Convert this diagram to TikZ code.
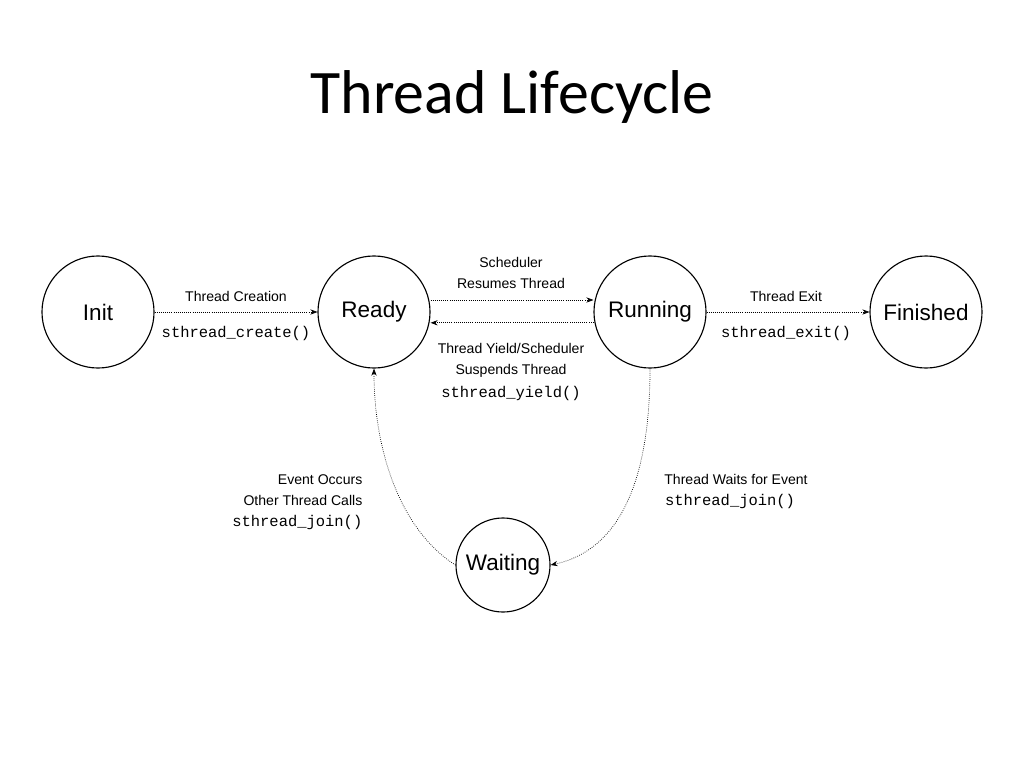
\documentclass[tikz,border=0pt]{standalone}
\usepackage{fontspec}
\setmainfont{Liberation Sans}
\newfontfamily\titlefont{Carlito}
\newfontfamily\monof{Liberation Mono}
\usetikzlibrary{arrows.meta}
\begin{document}
\begin{tikzpicture}[x=0.025cm,y=-0.025cm,
  st/.style={circle,draw,line width=0.8pt,minimum size=2.8cm,inner sep=0pt,font=\fontsize{16}{18}\selectfont},
  sts/.style={circle,draw,line width=0.8pt,minimum size=2.35cm,inner sep=0pt,font=\fontsize{16}{18}\selectfont},
  tr/.style={densely dotted,line width=0.5pt,-{Stealth[length=5pt]}},
  lb/.style={font=\fontsize{10}{13}\selectfont,align=center,inner sep=1pt},
  mn/.style={font=\monof\fontsize{11}{13}\selectfont,inner sep=1pt}]
\useasboundingbox (0,0) rectangle (1024,768);
\node[font=\titlefont\fontsize{44}{50}\selectfont] (title) at (512,97) {Thread Lifecycle};
\node[st] (init) at (98,312) {Init};
\node[st] (ready) at (374,312) {Ready};
\node[st] (run) at (650,312) {Running};
\node[st] (fin) at (926,312) {Finished};
\node[sts] (wait) at (503,565) {Waiting};
\draw[tr] (init.east) -- (ready.west);
\draw[tr] ([yshift=0.3cm]ready.east) -- ([yshift=0.3cm]run.west);
\draw[tr] ([yshift=-0.27cm]run.west) -- ([yshift=-0.27cm]ready.east);
\draw[tr] (run.east) -- (fin.west);
\draw[tr] (run.south) .. controls (650,480) and (620,550) .. (wait.east);
\draw[tr] (wait.west) .. controls (400,530) and (374,450) .. (ready.south);
\node[lb] (l1) at (236,296) {Thread Creation};
\node[mn] (m1) at (236,333) {sthread\_create()};
\node[lb] (l2) at (511,273) {Scheduler\\[2pt]Resumes Thread};
\node[lb] (l3) at (511,360) {Thread Yield/Scheduler\\[2pt]Suspends Thread};
\node[mn] (m3) at (511,393) {sthread\_yield()};
\node[lb] (l4) at (786,296) {Thread Exit};
\node[mn] (m4) at (786,333) {sthread\_exit()};
\node[lb] (l5) at (736,479) {Thread Waits for Event};
\node[mn] (m5) at (730,501) {sthread\_join()};
\node[lb,align=right,anchor=east] (l6) at (364,490) {Event Occurs\\[2pt]Other Thread Calls};
\node[mn,anchor=east] (m6) at (364,522) {sthread\_join()};
\end{tikzpicture}
\end{document}
